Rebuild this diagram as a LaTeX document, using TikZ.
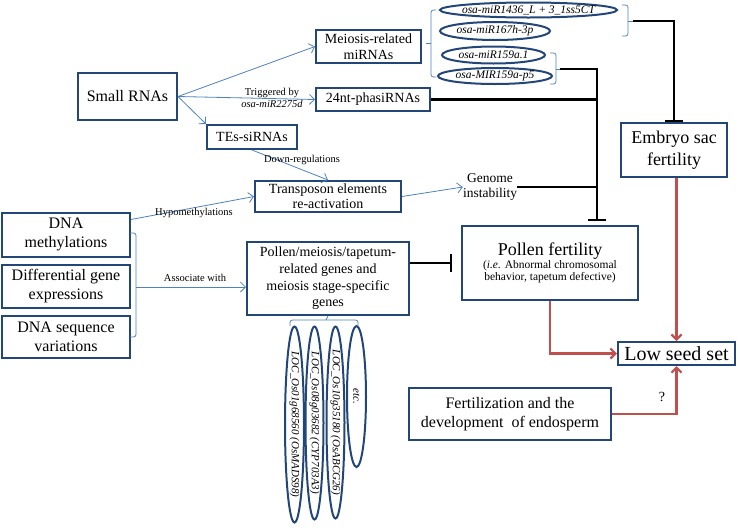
\documentclass[tikz,border=0pt]{standalone}
\usepackage{fontspec}
\setmainfont{Liberation Serif}
\usetikzlibrary{arrows.meta,calc,shapes.geometric}
\definecolor{boxc}{RGB}{35,70,120}
\definecolor{arrc}{RGB}{79,129,189}
\definecolor{redc}{RGB}{192,80,77}
\newcommand{\fsz}[2]{\fontsize{#1}{#2}\selectfont}
\tikzset{
 bx/.style={draw=boxc, line width=2pt, align=center, inner sep=0pt, fill=white},
 ell/.style={draw=boxc, line width=2pt, ellipse, inner sep=0pt},
 etxt/.style={inner sep=0pt, font=\fsz{11.5}{13}\itshape},
 vtxt/.style={inner sep=0pt, rotate=-90, font=\fsz{11}{13}\itshape},
 barr/.style={draw=arrc, line width=0.8pt, -{Straight Barb[length=5pt,width=10pt]}},
 rarr/.style={draw=redc, line width=2.2pt, -{Straight Barb[length=5pt,width=10pt]}},
 inh/.style={draw=black, line width=2.2pt, -{Bar[width=18pt]}},
 blk/.style={draw=black, line width=2.2pt},
 brc/.style={draw=arrc, line width=0.8pt, rounded corners=2.5pt},
 lbl/.style={font=\fsz{10.5}{12}, inner sep=1pt, align=center},
}
\begin{document}
\begin{tikzpicture}[x=1pt,y=-1pt]
\useasboundingbox (0,0) rectangle (740,528);
% boxes
\node[bx, minimum width=99, minimum height=47, font=\fsz{16}{19}] (sr) at (127.5,96.5) {Small RNAs};
\node[bx, minimum width=105, minimum height=33, font=\fsz{14}{15.5}] (mm) at (368.5,46.5) {Meiosis-related\\miRNAs};
\node[bx, minimum width=114, minimum height=23, font=\fsz{14}{16}] (ph) at (373,99.5) {24nt-phasiRNAs};
\node[bx, minimum width=90, minimum height=24, font=\fsz{14}{16}] (te) at (252,137) {TEs-siRNAs};
\node[bx, minimum width=146, minimum height=31, font=\fsz{14}{15}] (tr) at (328,196.5) {Transposon elements\\re-activation};
\node[inner sep=0pt, align=center, font=\fsz{13.5}{15.5}] (gi) at (490,187) {Genome\\instability};
\node[bx, minimum width=128, minimum height=44, font=\fsz{16}{19}] (dm) at (66,234.5) {DNA\\methylations};
\node[bx, minimum width=128, minimum height=43, font=\fsz{16}{19}] (dg) at (66,286.5) {Differential gene\\expressions};
\node[bx, minimum width=128, minimum height=42, font=\fsz{16}{19}] (ds) at (66,337) {DNA sequence\\variations};
\node[bx, minimum width=162, minimum height=73, font=\fsz{14}{16.6}] (pm) at (328,278.5) {Pollen/meiosis/tapetum-\\related genes and\\meiosis stage-specific\\genes};
\node[bx, minimum width=176, minimum height=74] (pf) at (550,263) {{\fsz{18}{21}Pollen fertility}\\[1pt]{\fsz{11.5}{15}(\textit{i.e.} Abnormal chromosomal}\\{\fsz{11.5}{15}behavior, tapetum defective)}};
\node[bx, minimum width=106, minimum height=54, font=\fsz{18}{22}] (es) at (674,150) {Embryo sac\\fertility};
\node[bx, minimum width=117, minimum height=23, font=\fsz{20}{22}] (ls) at (676.5,353.5) {Low seed set};
\node[bx, minimum width=202, minimum height=52, font=\fsz{16}{19}] (fe) at (510,414) {Fertilization and the\\development~ of endosperm};
% miRNA ellipses
\node[ell, minimum width=177, minimum height=15] (e1) at (528.5,10) {};
\node[etxt] (e1t) at (e1) {osa-miR1436\_L + 3\_1ss5CT};
\node[ell, minimum width=110, minimum height=18] (e2) at (495,31) {};
\node[etxt] (e2t) at (e2) {osa-miR167h-3p};
\node[ell, minimum width=103, minimum height=17] (e3) at (493.5,55) {};
\node[etxt] (e3t) at (e3) {osa-miR159a.1};
\node[ell, minimum width=114, minimum height=16] (e4) at (495,76) {};
\node[etxt] (e4t) at (e4) {osa-MIR159a-p5};
% gene ellipses
\node[ell, minimum width=19, minimum height=196] (v1) at (294.5,424.5) {};
\node[vtxt] (v1t) at (v1) {LOC\_Os01g68560 (OsMADS98)};
\node[ell, minimum width=18, minimum height=193] (v2) at (314.5,423) {};
\node[vtxt] (v2t) at (v2) {LOC\_Os08g03682 (CYP703A3)};
\node[ell, minimum width=18, minimum height=192] (v3) at (335.5,422.5) {};
\node[vtxt] (v3t) at (v3) {LOC\_Os10g35180 (OsABCG26)};
\node[ell, minimum width=19, minimum height=141] (v4) at (356.5,396.5) {};
\node[vtxt] (v4t) at (v4) {etc.};
% braces
\draw[brc] (436,10) -- (431,10) -- (431,77) -- (436,77);
\draw[brc] (431,43) -- (426,43);
\draw[brc] (622,5) -- (628,5) -- (628,36) -- (622,36);
\coordinate (b1) at (633,21);
\draw[brc] (628,21) -- (b1);
\draw[brc] (550,53) -- (556,53) -- (556,84) -- (550,84);
\coordinate (b2) at (560,69);
\draw[brc] (556,69) -- (b2);
\draw[brc] (130,233) -- (136,233) -- (136,337) -- (130,337);
\coordinate (bm) at (136,287);
\draw[brc] (pm.south) -- (326,320);
\draw[brc] (290,326) -- (290,320) -- (358,320) -- (358,326);
% blue arrows
\draw[barr] (sr.east) -- (mm.west);
\draw[barr] (sr.east) -- (ph.west);
\draw[barr] (sr.east) -- (te.north west);
\draw[barr] (te.south) -- (tr.north);
\draw[barr] (tr.east) -- (gi.west);
\draw[barr] ($(dm.north east)+(0,8)$) -- (tr.west);
\draw[barr] (bm) -- (bm -| pm.west);
% labels
\node[lbl] (l1) at (272,97.5) {Triggered by\\\textit{osa-miR2275d}};
\node[lbl] (l2) at (302,160) {Down-regulations};
\node[lbl] (l3) at (194,213) {Hypomethylations};
\node[lbl] (l4) at (195,278) {Associate with};
% black lines
\coordinate (pt) at (597,221);
\draw[inh] (b1) -| (es.north);
\draw[inh] (b2) -| (pt);
\draw[blk] (ph.east) -- (ph.east -| pt);
\draw[blk] (gi.east) -- (gi.east -| pt);
\draw[inh] (pm.east |- pf) -- ($(pf.west)+(-9,0)$);
% red arrows
\draw[rarr] (pf.south) |- (ls.west);
\draw[rarr] (ls.north |- es.south) -- (ls.north);
\draw[rarr] (fe.east) -| (ls.south);
\node[font=\fsz{14}{16}, inner sep=0pt] (q) at (662,397) {?};
\end{tikzpicture}
\end{document}
